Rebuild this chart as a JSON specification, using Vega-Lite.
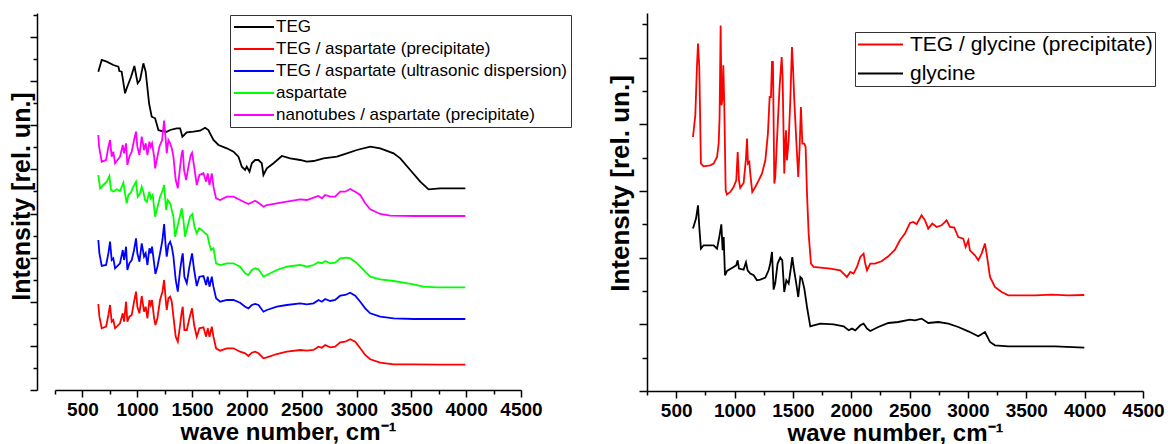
{
"$schema": "https://vega.github.io/schema/vega-lite/v6.json",
"background": "white",
"padding": {"left": 9, "top": 13, "right": 0, "bottom": 0},
"spacing": 35,
"config": {
  "view": {"stroke": null},
  "font": "Liberation Sans",
  "axis": {"domainColor": "black", "domainWidth": 1.5, "tickColor": "black", "tickWidth": 1.5, "grid": false, "labelFont": "Liberation Sans", "labelFontWeight": "bold", "labelColor": "black", "titleFont": "Liberation Sans", "titleFontWeight": "bold", "titleColor": "black", "labelOverlap": false, "labelFlush": false},
  "legend": {"labelFont": "Liberation Sans", "labelColor": "black"}
},
"datasets": {
"left": [
{"s":"TEG","x":645,"y":318.3},{"s":"TEG","x":676,"y":330},{"s":"TEG","x":722,"y":328.3},{"s":"TEG","x":782,"y":325},{"s":"TEG","x":828,"y":323.3},{"s":"TEG","x":837,"y":319},{"s":"TEG","x":858,"y":318.3},{"s":"TEG","x":889,"y":296.7},{"s":"TEG","x":904,"y":301.7},{"s":"TEG","x":944,"y":313.3},{"s":"TEG","x":974,"y":324},{"s":"TEG","x":1004,"y":306.7},{"s":"TEG","x":1026,"y":310},{"s":"TEG","x":1056,"y":326.7},{"s":"TEG","x":1077,"y":318.3},{"s":"TEG","x":1108,"y":286.7},{"s":"TEG","x":1132,"y":273.3},{"s":"TEG","x":1163,"y":271.7},{"s":"TEG","x":1193,"y":260},{"s":"TEG","x":1223,"y":259},{"s":"TEG","x":1269,"y":258.3},{"s":"TEG","x":1300,"y":260},{"s":"TEG","x":1360,"y":261.7},{"s":"TEG","x":1391,"y":261.7},{"s":"TEG","x":1412,"y":253.3},{"s":"TEG","x":1452,"y":257.7},{"s":"TEG","x":1512,"y":258.3},{"s":"TEG","x":1573,"y":259.3},{"s":"TEG","x":1619,"y":262.3},{"s":"TEG","x":1649,"y":260},{"s":"TEG","x":1695,"y":250},{"s":"TEG","x":1741,"y":245},{"s":"TEG","x":1817,"y":241.7},{"s":"TEG","x":1878,"y":238.3},{"s":"TEG","x":1923,"y":233.3},{"s":"TEG","x":1954,"y":223.3},{"s":"TEG","x":1984,"y":220},{"s":"TEG","x":1999,"y":223.3},{"s":"TEG","x":2024,"y":218.3},{"s":"TEG","x":2045,"y":226.7},{"s":"TEG","x":2075,"y":230},{"s":"TEG","x":2106,"y":230},{"s":"TEG","x":2136,"y":226.7},{"s":"TEG","x":2151,"y":215},{"s":"TEG","x":2182,"y":221.7},{"s":"TEG","x":2243,"y":226.7},{"s":"TEG","x":2319,"y":234},{"s":"TEG","x":2395,"y":231.7},{"s":"TEG","x":2486,"y":230},{"s":"TEG","x":2547,"y":228.3},{"s":"TEG","x":2608,"y":229},{"s":"TEG","x":2699,"y":231.7},{"s":"TEG","x":2821,"y":233.3},{"s":"TEG","x":2912,"y":236.7},{"s":"TEG","x":3003,"y":240},{"s":"TEG","x":3125,"y":243.3},{"s":"TEG","x":3216,"y":241.7},{"s":"TEG","x":3338,"y":236.7},{"s":"TEG","x":3399,"y":231.7},{"s":"TEG","x":3490,"y":220},{"s":"TEG","x":3581,"y":208.3},{"s":"TEG","x":3657,"y":200.7},{"s":"TEG","x":3763,"y":201.7},{"s":"TEG","x":3885,"y":201.7},{"s":"TEG","x":3992,"y":201.7},
{"s":"nanotubes / aspartate (precipitate)","x":645,"y":255},{"s":"nanotubes / aspartate (precipitate)","x":652,"y":243.3},{"s":"nanotubes / aspartate (precipitate)","x":676,"y":228.3},{"s":"nanotubes / aspartate (precipitate)","x":716,"y":230},{"s":"nanotubes / aspartate (precipitate)","x":737,"y":243.3},{"s":"nanotubes / aspartate (precipitate)","x":752,"y":250},{"s":"nanotubes / aspartate (precipitate)","x":767,"y":233.3},{"s":"nanotubes / aspartate (precipitate)","x":782,"y":238.3},{"s":"nanotubes / aspartate (precipitate)","x":798,"y":226.7},{"s":"nanotubes / aspartate (precipitate)","x":843,"y":233.3},{"s":"nanotubes / aspartate (precipitate)","x":868,"y":245},{"s":"nanotubes / aspartate (precipitate)","x":880,"y":236.7},{"s":"nanotubes / aspartate (precipitate)","x":898,"y":246.7},{"s":"nanotubes / aspartate (precipitate)","x":910,"y":225},{"s":"nanotubes / aspartate (precipitate)","x":928,"y":233.3},{"s":"nanotubes / aspartate (precipitate)","x":950,"y":238.3},{"s":"nanotubes / aspartate (precipitate)","x":971,"y":250},{"s":"nanotubes / aspartate (precipitate)","x":989,"y":258.3},{"s":"nanotubes / aspartate (precipitate)","x":1001,"y":243.3},{"s":"nanotubes / aspartate (precipitate)","x":1020,"y":235},{"s":"nanotubes / aspartate (precipitate)","x":1041,"y":253.3},{"s":"nanotubes / aspartate (precipitate)","x":1062,"y":240},{"s":"nanotubes / aspartate (precipitate)","x":1077,"y":246.7},{"s":"nanotubes / aspartate (precipitate)","x":1093,"y":235},{"s":"nanotubes / aspartate (precipitate)","x":1111,"y":248.3},{"s":"nanotubes / aspartate (precipitate)","x":1123,"y":243.3},{"s":"nanotubes / aspartate (precipitate)","x":1135,"y":246.7},{"s":"nanotubes / aspartate (precipitate)","x":1154,"y":233.3},{"s":"nanotubes / aspartate (precipitate)","x":1163,"y":221.7},{"s":"nanotubes / aspartate (precipitate)","x":1178,"y":230},{"s":"nanotubes / aspartate (precipitate)","x":1202,"y":243.3},{"s":"nanotubes / aspartate (precipitate)","x":1227,"y":250},{"s":"nanotubes / aspartate (precipitate)","x":1245,"y":269.3},{"s":"nanotubes / aspartate (precipitate)","x":1260,"y":250},{"s":"nanotubes / aspartate (precipitate)","x":1269,"y":236.7},{"s":"nanotubes / aspartate (precipitate)","x":1284,"y":250},{"s":"nanotubes / aspartate (precipitate)","x":1300,"y":246.7},{"s":"nanotubes / aspartate (precipitate)","x":1315,"y":241.7},{"s":"nanotubes / aspartate (precipitate)","x":1330,"y":233.3},{"s":"nanotubes / aspartate (precipitate)","x":1351,"y":210},{"s":"nanotubes / aspartate (precipitate)","x":1370,"y":201.7},{"s":"nanotubes / aspartate (precipitate)","x":1391,"y":223.3},{"s":"nanotubes / aspartate (precipitate)","x":1406,"y":236.7},{"s":"nanotubes / aspartate (precipitate)","x":1415,"y":240},{"s":"nanotubes / aspartate (precipitate)","x":1427,"y":220},{"s":"nanotubes / aspartate (precipitate)","x":1446,"y":210},{"s":"nanotubes / aspartate (precipitate)","x":1467,"y":223.3},{"s":"nanotubes / aspartate (precipitate)","x":1488,"y":235},{"s":"nanotubes / aspartate (precipitate)","x":1500,"y":237.3},{"s":"nanotubes / aspartate (precipitate)","x":1519,"y":223.3},{"s":"nanotubes / aspartate (precipitate)","x":1543,"y":205},{"s":"nanotubes / aspartate (precipitate)","x":1567,"y":215},{"s":"nanotubes / aspartate (precipitate)","x":1604,"y":216.7},{"s":"nanotubes / aspartate (precipitate)","x":1628,"y":208.3},{"s":"nanotubes / aspartate (precipitate)","x":1643,"y":216.7},{"s":"nanotubes / aspartate (precipitate)","x":1659,"y":205},{"s":"nanotubes / aspartate (precipitate)","x":1680,"y":216.7},{"s":"nanotubes / aspartate (precipitate)","x":1695,"y":203.3},{"s":"nanotubes / aspartate (precipitate)","x":1719,"y":191.7},{"s":"nanotubes / aspartate (precipitate)","x":1756,"y":190},{"s":"nanotubes / aspartate (precipitate)","x":1817,"y":193.3},{"s":"nanotubes / aspartate (precipitate)","x":1878,"y":193.3},{"s":"nanotubes / aspartate (precipitate)","x":1938,"y":190},{"s":"nanotubes / aspartate (precipitate)","x":2014,"y":186},{"s":"nanotubes / aspartate (precipitate)","x":2075,"y":189.3},{"s":"nanotubes / aspartate (precipitate)","x":2106,"y":187.3},{"s":"nanotubes / aspartate (precipitate)","x":2151,"y":183.3},{"s":"nanotubes / aspartate (precipitate)","x":2182,"y":185},{"s":"nanotubes / aspartate (precipitate)","x":2273,"y":186.7},{"s":"nanotubes / aspartate (precipitate)","x":2364,"y":188.3},{"s":"nanotubes / aspartate (precipitate)","x":2486,"y":190.7},{"s":"nanotubes / aspartate (precipitate)","x":2547,"y":190},{"s":"nanotubes / aspartate (precipitate)","x":2608,"y":192.3},{"s":"nanotubes / aspartate (precipitate)","x":2653,"y":194},{"s":"nanotubes / aspartate (precipitate)","x":2684,"y":191.7},{"s":"nanotubes / aspartate (precipitate)","x":2714,"y":195},{"s":"nanotubes / aspartate (precipitate)","x":2760,"y":193.3},{"s":"nanotubes / aspartate (precipitate)","x":2805,"y":193.3},{"s":"nanotubes / aspartate (precipitate)","x":2851,"y":198.3},{"s":"nanotubes / aspartate (precipitate)","x":2897,"y":198.3},{"s":"nanotubes / aspartate (precipitate)","x":2942,"y":201},{"s":"nanotubes / aspartate (precipitate)","x":2988,"y":198.3},{"s":"nanotubes / aspartate (precipitate)","x":3034,"y":195},{"s":"nanotubes / aspartate (precipitate)","x":3079,"y":186.7},{"s":"nanotubes / aspartate (precipitate)","x":3125,"y":180.7},{"s":"nanotubes / aspartate (precipitate)","x":3216,"y":176},{"s":"nanotubes / aspartate (precipitate)","x":3307,"y":174.3},{"s":"nanotubes / aspartate (precipitate)","x":3520,"y":174},{"s":"nanotubes / aspartate (precipitate)","x":3763,"y":174},{"s":"nanotubes / aspartate (precipitate)","x":3992,"y":174},
{"s":"aspartate","x":645,"y":215},{"s":"aspartate","x":661,"y":201.7},{"s":"aspartate","x":691,"y":205},{"s":"aspartate","x":722,"y":208.3},{"s":"aspartate","x":746,"y":214},{"s":"aspartate","x":761,"y":200},{"s":"aspartate","x":782,"y":198.3},{"s":"aspartate","x":813,"y":200.7},{"s":"aspartate","x":843,"y":199},{"s":"aspartate","x":874,"y":207.3},{"s":"aspartate","x":889,"y":196.7},{"s":"aspartate","x":904,"y":186.7},{"s":"aspartate","x":919,"y":195},{"s":"aspartate","x":941,"y":197.3},{"s":"aspartate","x":965,"y":203.3},{"s":"aspartate","x":989,"y":208.3},{"s":"aspartate","x":1004,"y":193.3},{"s":"aspartate","x":1026,"y":196.7},{"s":"aspartate","x":1041,"y":203.3},{"s":"aspartate","x":1056,"y":198.3},{"s":"aspartate","x":1071,"y":190},{"s":"aspartate","x":1087,"y":188.3},{"s":"aspartate","x":1111,"y":198.3},{"s":"aspartate","x":1123,"y":191.7},{"s":"aspartate","x":1141,"y":195},{"s":"aspartate","x":1163,"y":173.3},{"s":"aspartate","x":1178,"y":180},{"s":"aspartate","x":1208,"y":193.3},{"s":"aspartate","x":1233,"y":200},{"s":"aspartate","x":1245,"y":205},{"s":"aspartate","x":1263,"y":180},{"s":"aspartate","x":1278,"y":190},{"s":"aspartate","x":1300,"y":186.7},{"s":"aspartate","x":1330,"y":173.3},{"s":"aspartate","x":1345,"y":153.3},{"s":"aspartate","x":1366,"y":163.3},{"s":"aspartate","x":1385,"y":171.7},{"s":"aspartate","x":1406,"y":181.7},{"s":"aspartate","x":1421,"y":170},{"s":"aspartate","x":1436,"y":153.3},{"s":"aspartate","x":1458,"y":163.3},{"s":"aspartate","x":1482,"y":173.3},{"s":"aspartate","x":1503,"y":176},{"s":"aspartate","x":1522,"y":163.3},{"s":"aspartate","x":1543,"y":156.7},{"s":"aspartate","x":1564,"y":161.7},{"s":"aspartate","x":1589,"y":160},{"s":"aspartate","x":1619,"y":156.7},{"s":"aspartate","x":1640,"y":155},{"s":"aspartate","x":1659,"y":145},{"s":"aspartate","x":1674,"y":140},{"s":"aspartate","x":1695,"y":141.7},{"s":"aspartate","x":1719,"y":126.7},{"s":"aspartate","x":1756,"y":125},{"s":"aspartate","x":1817,"y":126.7},{"s":"aspartate","x":1878,"y":126.7},{"s":"aspartate","x":1938,"y":123.3},{"s":"aspartate","x":1984,"y":116.7},{"s":"aspartate","x":2014,"y":115},{"s":"aspartate","x":2045,"y":120},{"s":"aspartate","x":2075,"y":121.7},{"s":"aspartate","x":2106,"y":120.7},{"s":"aspartate","x":2151,"y":113.3},{"s":"aspartate","x":2182,"y":115},{"s":"aspartate","x":2273,"y":120},{"s":"aspartate","x":2364,"y":123.3},{"s":"aspartate","x":2486,"y":125},{"s":"aspartate","x":2547,"y":123.3},{"s":"aspartate","x":2608,"y":125},{"s":"aspartate","x":2653,"y":127.7},{"s":"aspartate","x":2684,"y":126.7},{"s":"aspartate","x":2714,"y":129},{"s":"aspartate","x":2760,"y":126.7},{"s":"aspartate","x":2805,"y":127.3},{"s":"aspartate","x":2851,"y":131.7},{"s":"aspartate","x":2912,"y":132.3},{"s":"aspartate","x":2942,"y":131.7},{"s":"aspartate","x":2988,"y":128.3},{"s":"aspartate","x":3034,"y":123.3},{"s":"aspartate","x":3079,"y":118.3},{"s":"aspartate","x":3125,"y":113.3},{"s":"aspartate","x":3216,"y":110.7},{"s":"aspartate","x":3338,"y":109},{"s":"aspartate","x":3429,"y":107.3},{"s":"aspartate","x":3520,"y":105.7},{"s":"aspartate","x":3611,"y":103.3},{"s":"aspartate","x":3733,"y":102.7},{"s":"aspartate","x":3992,"y":102.7},
{"s":"TEG / aspartate (ultrasonic dispersion)","x":645,"y":150},{"s":"TEG / aspartate (ultrasonic dispersion)","x":655,"y":136.7},{"s":"TEG / aspartate (ultrasonic dispersion)","x":676,"y":124},{"s":"TEG / aspartate (ultrasonic dispersion)","x":716,"y":125},{"s":"TEG / aspartate (ultrasonic dispersion)","x":737,"y":136.7},{"s":"TEG / aspartate (ultrasonic dispersion)","x":752,"y":148.3},{"s":"TEG / aspartate (ultrasonic dispersion)","x":767,"y":130},{"s":"TEG / aspartate (ultrasonic dispersion)","x":782,"y":131.7},{"s":"TEG / aspartate (ultrasonic dispersion)","x":798,"y":121.7},{"s":"TEG / aspartate (ultrasonic dispersion)","x":843,"y":126.7},{"s":"TEG / aspartate (ultrasonic dispersion)","x":868,"y":140},{"s":"TEG / aspartate (ultrasonic dispersion)","x":880,"y":130},{"s":"TEG / aspartate (ultrasonic dispersion)","x":898,"y":143.3},{"s":"TEG / aspartate (ultrasonic dispersion)","x":910,"y":120},{"s":"TEG / aspartate (ultrasonic dispersion)","x":928,"y":126.7},{"s":"TEG / aspartate (ultrasonic dispersion)","x":950,"y":130},{"s":"TEG / aspartate (ultrasonic dispersion)","x":971,"y":140},{"s":"TEG / aspartate (ultrasonic dispersion)","x":989,"y":151.7},{"s":"TEG / aspartate (ultrasonic dispersion)","x":1001,"y":136.7},{"s":"TEG / aspartate (ultrasonic dispersion)","x":1020,"y":128.3},{"s":"TEG / aspartate (ultrasonic dispersion)","x":1041,"y":146.7},{"s":"TEG / aspartate (ultrasonic dispersion)","x":1062,"y":133.3},{"s":"TEG / aspartate (ultrasonic dispersion)","x":1077,"y":136.7},{"s":"TEG / aspartate (ultrasonic dispersion)","x":1093,"y":125},{"s":"TEG / aspartate (ultrasonic dispersion)","x":1111,"y":141.7},{"s":"TEG / aspartate (ultrasonic dispersion)","x":1123,"y":136.7},{"s":"TEG / aspartate (ultrasonic dispersion)","x":1135,"y":143.3},{"s":"TEG / aspartate (ultrasonic dispersion)","x":1154,"y":126.7},{"s":"TEG / aspartate (ultrasonic dispersion)","x":1166,"y":116},{"s":"TEG / aspartate (ultrasonic dispersion)","x":1184,"y":123.3},{"s":"TEG / aspartate (ultrasonic dispersion)","x":1208,"y":136.7},{"s":"TEG / aspartate (ultrasonic dispersion)","x":1230,"y":150},{"s":"TEG / aspartate (ultrasonic dispersion)","x":1245,"y":166},{"s":"TEG / aspartate (ultrasonic dispersion)","x":1260,"y":143.3},{"s":"TEG / aspartate (ultrasonic dispersion)","x":1269,"y":133.3},{"s":"TEG / aspartate (ultrasonic dispersion)","x":1284,"y":145},{"s":"TEG / aspartate (ultrasonic dispersion)","x":1300,"y":148.3},{"s":"TEG / aspartate (ultrasonic dispersion)","x":1315,"y":143.3},{"s":"TEG / aspartate (ultrasonic dispersion)","x":1330,"y":133.3},{"s":"TEG / aspartate (ultrasonic dispersion)","x":1351,"y":110},{"s":"TEG / aspartate (ultrasonic dispersion)","x":1370,"y":98.3},{"s":"TEG / aspartate (ultrasonic dispersion)","x":1391,"y":120},{"s":"TEG / aspartate (ultrasonic dispersion)","x":1406,"y":131.7},{"s":"TEG / aspartate (ultrasonic dispersion)","x":1415,"y":136.7},{"s":"TEG / aspartate (ultrasonic dispersion)","x":1430,"y":113.3},{"s":"TEG / aspartate (ultrasonic dispersion)","x":1452,"y":106.7},{"s":"TEG / aspartate (ultrasonic dispersion)","x":1476,"y":123.3},{"s":"TEG / aspartate (ultrasonic dispersion)","x":1500,"y":136.7},{"s":"TEG / aspartate (ultrasonic dispersion)","x":1519,"y":120},{"s":"TEG / aspartate (ultrasonic dispersion)","x":1543,"y":104},{"s":"TEG / aspartate (ultrasonic dispersion)","x":1567,"y":113.3},{"s":"TEG / aspartate (ultrasonic dispersion)","x":1604,"y":114},{"s":"TEG / aspartate (ultrasonic dispersion)","x":1628,"y":105},{"s":"TEG / aspartate (ultrasonic dispersion)","x":1643,"y":113.3},{"s":"TEG / aspartate (ultrasonic dispersion)","x":1659,"y":103.3},{"s":"TEG / aspartate (ultrasonic dispersion)","x":1680,"y":113.3},{"s":"TEG / aspartate (ultrasonic dispersion)","x":1695,"y":103.3},{"s":"TEG / aspartate (ultrasonic dispersion)","x":1719,"y":91.7},{"s":"TEG / aspartate (ultrasonic dispersion)","x":1756,"y":88.3},{"s":"TEG / aspartate (ultrasonic dispersion)","x":1817,"y":90},{"s":"TEG / aspartate (ultrasonic dispersion)","x":1878,"y":90},{"s":"TEG / aspartate (ultrasonic dispersion)","x":1938,"y":87.3},{"s":"TEG / aspartate (ultrasonic dispersion)","x":1984,"y":83.3},{"s":"TEG / aspartate (ultrasonic dispersion)","x":2014,"y":81.7},{"s":"TEG / aspartate (ultrasonic dispersion)","x":2045,"y":85},{"s":"TEG / aspartate (ultrasonic dispersion)","x":2075,"y":86},{"s":"TEG / aspartate (ultrasonic dispersion)","x":2106,"y":85},{"s":"TEG / aspartate (ultrasonic dispersion)","x":2151,"y":78.3},{"s":"TEG / aspartate (ultrasonic dispersion)","x":2182,"y":80},{"s":"TEG / aspartate (ultrasonic dispersion)","x":2273,"y":83.3},{"s":"TEG / aspartate (ultrasonic dispersion)","x":2364,"y":85},{"s":"TEG / aspartate (ultrasonic dispersion)","x":2486,"y":86.7},{"s":"TEG / aspartate (ultrasonic dispersion)","x":2547,"y":85.7},{"s":"TEG / aspartate (ultrasonic dispersion)","x":2608,"y":86.7},{"s":"TEG / aspartate (ultrasonic dispersion)","x":2653,"y":90},{"s":"TEG / aspartate (ultrasonic dispersion)","x":2684,"y":88.3},{"s":"TEG / aspartate (ultrasonic dispersion)","x":2714,"y":91},{"s":"TEG / aspartate (ultrasonic dispersion)","x":2760,"y":89},{"s":"TEG / aspartate (ultrasonic dispersion)","x":2805,"y":90},{"s":"TEG / aspartate (ultrasonic dispersion)","x":2851,"y":94.3},{"s":"TEG / aspartate (ultrasonic dispersion)","x":2897,"y":95},{"s":"TEG / aspartate (ultrasonic dispersion)","x":2942,"y":97.3},{"s":"TEG / aspartate (ultrasonic dispersion)","x":2988,"y":94.3},{"s":"TEG / aspartate (ultrasonic dispersion)","x":3034,"y":88.3},{"s":"TEG / aspartate (ultrasonic dispersion)","x":3079,"y":81.7},{"s":"TEG / aspartate (ultrasonic dispersion)","x":3125,"y":76.7},{"s":"TEG / aspartate (ultrasonic dispersion)","x":3216,"y":73.3},{"s":"TEG / aspartate (ultrasonic dispersion)","x":3338,"y":71.7},{"s":"TEG / aspartate (ultrasonic dispersion)","x":3520,"y":71},{"s":"TEG / aspartate (ultrasonic dispersion)","x":3763,"y":71},{"s":"TEG / aspartate (ultrasonic dispersion)","x":3992,"y":71},
{"s":"TEG / aspartate (precipitate)","x":645,"y":86},{"s":"TEG / aspartate (precipitate)","x":655,"y":73.3},{"s":"TEG / aspartate (precipitate)","x":676,"y":61.7},{"s":"TEG / aspartate (precipitate)","x":716,"y":63.3},{"s":"TEG / aspartate (precipitate)","x":737,"y":75},{"s":"TEG / aspartate (precipitate)","x":752,"y":85},{"s":"TEG / aspartate (precipitate)","x":767,"y":68.3},{"s":"TEG / aspartate (precipitate)","x":782,"y":70},{"s":"TEG / aspartate (precipitate)","x":798,"y":61.7},{"s":"TEG / aspartate (precipitate)","x":843,"y":66.7},{"s":"TEG / aspartate (precipitate)","x":868,"y":76.7},{"s":"TEG / aspartate (precipitate)","x":880,"y":68.3},{"s":"TEG / aspartate (precipitate)","x":898,"y":88.3},{"s":"TEG / aspartate (precipitate)","x":910,"y":68.3},{"s":"TEG / aspartate (precipitate)","x":928,"y":73.3},{"s":"TEG / aspartate (precipitate)","x":950,"y":75},{"s":"TEG / aspartate (precipitate)","x":971,"y":88.3},{"s":"TEG / aspartate (precipitate)","x":989,"y":98.3},{"s":"TEG / aspartate (precipitate)","x":1001,"y":83.3},{"s":"TEG / aspartate (precipitate)","x":1020,"y":76.7},{"s":"TEG / aspartate (precipitate)","x":1041,"y":94},{"s":"TEG / aspartate (precipitate)","x":1062,"y":78.3},{"s":"TEG / aspartate (precipitate)","x":1077,"y":83.3},{"s":"TEG / aspartate (precipitate)","x":1093,"y":71.7},{"s":"TEG / aspartate (precipitate)","x":1111,"y":90},{"s":"TEG / aspartate (precipitate)","x":1123,"y":85},{"s":"TEG / aspartate (precipitate)","x":1135,"y":90},{"s":"TEG / aspartate (precipitate)","x":1154,"y":71.7},{"s":"TEG / aspartate (precipitate)","x":1166,"y":65},{"s":"TEG / aspartate (precipitate)","x":1184,"y":71.7},{"s":"TEG / aspartate (precipitate)","x":1208,"y":90},{"s":"TEG / aspartate (precipitate)","x":1230,"y":98.3},{"s":"TEG / aspartate (precipitate)","x":1245,"y":110},{"s":"TEG / aspartate (precipitate)","x":1260,"y":90},{"s":"TEG / aspartate (precipitate)","x":1269,"y":80},{"s":"TEG / aspartate (precipitate)","x":1284,"y":91.7},{"s":"TEG / aspartate (precipitate)","x":1300,"y":93.3},{"s":"TEG / aspartate (precipitate)","x":1315,"y":88.3},{"s":"TEG / aspartate (precipitate)","x":1330,"y":73.3},{"s":"TEG / aspartate (precipitate)","x":1351,"y":53.3},{"s":"TEG / aspartate (precipitate)","x":1370,"y":48.3},{"s":"TEG / aspartate (precipitate)","x":1391,"y":65},{"s":"TEG / aspartate (precipitate)","x":1406,"y":78.3},{"s":"TEG / aspartate (precipitate)","x":1415,"y":83.3},{"s":"TEG / aspartate (precipitate)","x":1430,"y":60},{"s":"TEG / aspartate (precipitate)","x":1452,"y":60},{"s":"TEG / aspartate (precipitate)","x":1476,"y":71.7},{"s":"TEG / aspartate (precipitate)","x":1500,"y":81.7},{"s":"TEG / aspartate (precipitate)","x":1519,"y":65},{"s":"TEG / aspartate (precipitate)","x":1543,"y":53.3},{"s":"TEG / aspartate (precipitate)","x":1567,"y":61.7},{"s":"TEG / aspartate (precipitate)","x":1604,"y":62.7},{"s":"TEG / aspartate (precipitate)","x":1628,"y":53.3},{"s":"TEG / aspartate (precipitate)","x":1643,"y":61.7},{"s":"TEG / aspartate (precipitate)","x":1659,"y":53.3},{"s":"TEG / aspartate (precipitate)","x":1680,"y":63.3},{"s":"TEG / aspartate (precipitate)","x":1695,"y":53.3},{"s":"TEG / aspartate (precipitate)","x":1719,"y":41.7},{"s":"TEG / aspartate (precipitate)","x":1756,"y":39.3},{"s":"TEG / aspartate (precipitate)","x":1817,"y":41.7},{"s":"TEG / aspartate (precipitate)","x":1878,"y":41.7},{"s":"TEG / aspartate (precipitate)","x":1938,"y":38.3},{"s":"TEG / aspartate (precipitate)","x":1984,"y":36.7},{"s":"TEG / aspartate (precipitate)","x":2014,"y":34},{"s":"TEG / aspartate (precipitate)","x":2045,"y":37.3},{"s":"TEG / aspartate (precipitate)","x":2075,"y":38.3},{"s":"TEG / aspartate (precipitate)","x":2106,"y":36.7},{"s":"TEG / aspartate (precipitate)","x":2151,"y":31.7},{"s":"TEG / aspartate (precipitate)","x":2182,"y":32.7},{"s":"TEG / aspartate (precipitate)","x":2273,"y":36},{"s":"TEG / aspartate (precipitate)","x":2364,"y":38.3},{"s":"TEG / aspartate (precipitate)","x":2486,"y":40},{"s":"TEG / aspartate (precipitate)","x":2547,"y":39.3},{"s":"TEG / aspartate (precipitate)","x":2608,"y":40},{"s":"TEG / aspartate (precipitate)","x":2653,"y":43.3},{"s":"TEG / aspartate (precipitate)","x":2684,"y":42.3},{"s":"TEG / aspartate (precipitate)","x":2714,"y":45},{"s":"TEG / aspartate (precipitate)","x":2760,"y":42.7},{"s":"TEG / aspartate (precipitate)","x":2805,"y":43.3},{"s":"TEG / aspartate (precipitate)","x":2851,"y":47.7},{"s":"TEG / aspartate (precipitate)","x":2897,"y":48.3},{"s":"TEG / aspartate (precipitate)","x":2942,"y":50.7},{"s":"TEG / aspartate (precipitate)","x":2988,"y":48.3},{"s":"TEG / aspartate (precipitate)","x":3034,"y":41.7},{"s":"TEG / aspartate (precipitate)","x":3079,"y":35},{"s":"TEG / aspartate (precipitate)","x":3125,"y":30.7},{"s":"TEG / aspartate (precipitate)","x":3216,"y":27.3},{"s":"TEG / aspartate (precipitate)","x":3338,"y":25.7},{"s":"TEG / aspartate (precipitate)","x":3520,"y":25.7},{"s":"TEG / aspartate (precipitate)","x":3763,"y":25.3},{"s":"TEG / aspartate (precipitate)","x":3992,"y":25.3}
],
"right": [
{"s":"TEG / glycine (precipitate)","x":644,"y":254},{"s":"TEG / glycine (precipitate)","x":664,"y":275.7},{"s":"TEG / glycine (precipitate)","x":678,"y":324},{"s":"TEG / glycine (precipitate)","x":687,"y":347.4},{"s":"TEG / glycine (precipitate)","x":698,"y":324},{"s":"TEG / glycine (precipitate)","x":712,"y":227.4},{"s":"TEG / glycine (precipitate)","x":735,"y":224.7},{"s":"TEG / glycine (precipitate)","x":792,"y":225.7},{"s":"TEG / glycine (precipitate)","x":821,"y":227.4},{"s":"TEG / glycine (precipitate)","x":850,"y":234},{"s":"TEG / glycine (precipitate)","x":864,"y":247.4},{"s":"TEG / glycine (precipitate)","x":872,"y":274},{"s":"TEG / glycine (precipitate)","x":881,"y":365.4},{"s":"TEG / glycine (precipitate)","x":889,"y":285.7},{"s":"TEG / glycine (precipitate)","x":898,"y":294},{"s":"TEG / glycine (precipitate)","x":904,"y":325.7},{"s":"TEG / glycine (precipitate)","x":912,"y":287.4},{"s":"TEG / glycine (precipitate)","x":924,"y":200.7},{"s":"TEG / glycine (precipitate)","x":935,"y":196.4},{"s":"TEG / glycine (precipitate)","x":964,"y":199},{"s":"TEG / glycine (precipitate)","x":992,"y":204},{"s":"TEG / glycine (precipitate)","x":1015,"y":210.7},{"s":"TEG / glycine (precipitate)","x":1027,"y":239},{"s":"TEG / glycine (precipitate)","x":1038,"y":210.7},{"s":"TEG / glycine (precipitate)","x":1049,"y":203},{"s":"TEG / glycine (precipitate)","x":1078,"y":208},{"s":"TEG / glycine (precipitate)","x":1098,"y":232.4},{"s":"TEG / glycine (precipitate)","x":1107,"y":252.4},{"s":"TEG / glycine (precipitate)","x":1115,"y":227.4},{"s":"TEG / glycine (precipitate)","x":1127,"y":229},{"s":"TEG / glycine (precipitate)","x":1135,"y":217.4},{"s":"TEG / glycine (precipitate)","x":1152,"y":199},{"s":"TEG / glycine (precipitate)","x":1178,"y":204},{"s":"TEG / glycine (precipitate)","x":1207,"y":210.7},{"s":"TEG / glycine (precipitate)","x":1235,"y":217.4},{"s":"TEG / glycine (precipitate)","x":1264,"y":230.7},{"s":"TEG / glycine (precipitate)","x":1286,"y":257.4},{"s":"TEG / glycine (precipitate)","x":1301,"y":294},{"s":"TEG / glycine (precipitate)","x":1312,"y":294},{"s":"TEG / glycine (precipitate)","x":1321,"y":329},{"s":"TEG / glycine (precipitate)","x":1329,"y":329},{"s":"TEG / glycine (precipitate)","x":1341,"y":207.4},{"s":"TEG / glycine (precipitate)","x":1349,"y":214},{"s":"TEG / glycine (precipitate)","x":1369,"y":264},{"s":"TEG / glycine (precipitate)","x":1386,"y":304},{"s":"TEG / glycine (precipitate)","x":1404,"y":334},{"s":"TEG / glycine (precipitate)","x":1412,"y":314},{"s":"TEG / glycine (precipitate)","x":1426,"y":217.4},{"s":"TEG / glycine (precipitate)","x":1435,"y":247.4},{"s":"TEG / glycine (precipitate)","x":1441,"y":260.7},{"s":"TEG / glycine (precipitate)","x":1449,"y":230.7},{"s":"TEG / glycine (precipitate)","x":1464,"y":250.7},{"s":"TEG / glycine (precipitate)","x":1478,"y":290.7},{"s":"TEG / glycine (precipitate)","x":1492,"y":344},{"s":"TEG / glycine (precipitate)","x":1501,"y":324},{"s":"TEG / glycine (precipitate)","x":1512,"y":290.7},{"s":"TEG / glycine (precipitate)","x":1529,"y":250.7},{"s":"TEG / glycine (precipitate)","x":1546,"y":214},{"s":"TEG / glycine (precipitate)","x":1558,"y":244},{"s":"TEG / glycine (precipitate)","x":1569,"y":284},{"s":"TEG / glycine (precipitate)","x":1581,"y":247.4},{"s":"TEG / glycine (precipitate)","x":1598,"y":247.4},{"s":"TEG / glycine (precipitate)","x":1609,"y":244},{"s":"TEG / glycine (precipitate)","x":1621,"y":197.4},{"s":"TEG / glycine (precipitate)","x":1635,"y":157.4},{"s":"TEG / glycine (precipitate)","x":1655,"y":127.4},{"s":"TEG / glycine (precipitate)","x":1678,"y":124},{"s":"TEG / glycine (precipitate)","x":1735,"y":123.4},{"s":"TEG / glycine (precipitate)","x":1821,"y":122.4},{"s":"TEG / glycine (precipitate)","x":1906,"y":120.7},{"s":"TEG / glycine (precipitate)","x":1949,"y":115.7},{"s":"TEG / glycine (precipitate)","x":1963,"y":114},{"s":"TEG / glycine (precipitate)","x":1992,"y":119},{"s":"TEG / glycine (precipitate)","x":2020,"y":117.4},{"s":"TEG / glycine (precipitate)","x":2049,"y":124},{"s":"TEG / glycine (precipitate)","x":2078,"y":134},{"s":"TEG / glycine (precipitate)","x":2106,"y":137.4},{"s":"TEG / glycine (precipitate)","x":2120,"y":127.4},{"s":"TEG / glycine (precipitate)","x":2135,"y":120.7},{"s":"TEG / glycine (precipitate)","x":2163,"y":127.4},{"s":"TEG / glycine (precipitate)","x":2203,"y":127.4},{"s":"TEG / glycine (precipitate)","x":2260,"y":129.7},{"s":"TEG / glycine (precipitate)","x":2318,"y":134.7},{"s":"TEG / glycine (precipitate)","x":2375,"y":141.4},{"s":"TEG / glycine (precipitate)","x":2417,"y":150.7},{"s":"TEG / glycine (precipitate)","x":2460,"y":157.4},{"s":"TEG / glycine (precipitate)","x":2503,"y":168},{"s":"TEG / glycine (precipitate)","x":2532,"y":169},{"s":"TEG / glycine (precipitate)","x":2560,"y":166.7},{"s":"TEG / glycine (precipitate)","x":2603,"y":175.7},{"s":"TEG / glycine (precipitate)","x":2632,"y":170.7},{"s":"TEG / glycine (precipitate)","x":2660,"y":162.4},{"s":"TEG / glycine (precipitate)","x":2694,"y":167.4},{"s":"TEG / glycine (precipitate)","x":2732,"y":164},{"s":"TEG / glycine (precipitate)","x":2774,"y":165.7},{"s":"TEG / glycine (precipitate)","x":2817,"y":170.7},{"s":"TEG / glycine (precipitate)","x":2846,"y":164},{"s":"TEG / glycine (precipitate)","x":2883,"y":163.4},{"s":"TEG / glycine (precipitate)","x":2917,"y":154},{"s":"TEG / glycine (precipitate)","x":2960,"y":152.4},{"s":"TEG / glycine (precipitate)","x":2980,"y":144},{"s":"TEG / glycine (precipitate)","x":3003,"y":150.7},{"s":"TEG / glycine (precipitate)","x":3017,"y":140.7},{"s":"TEG / glycine (precipitate)","x":3060,"y":135.7},{"s":"TEG / glycine (precipitate)","x":3089,"y":130.7},{"s":"TEG / glycine (precipitate)","x":3117,"y":137.4},{"s":"TEG / glycine (precipitate)","x":3146,"y":147.4},{"s":"TEG / glycine (precipitate)","x":3160,"y":137.4},{"s":"TEG / glycine (precipitate)","x":3189,"y":114},{"s":"TEG / glycine (precipitate)","x":3231,"y":104},{"s":"TEG / glycine (precipitate)","x":3289,"y":99},{"s":"TEG / glycine (precipitate)","x":3346,"y":95.7},{"s":"TEG / glycine (precipitate)","x":3574,"y":95.7},{"s":"TEG / glycine (precipitate)","x":3717,"y":96.4},{"s":"TEG / glycine (precipitate)","x":3860,"y":95.7},{"s":"TEG / glycine (precipitate)","x":3997,"y":96},
{"s":"glycine","x":644,"y":162.4},{"s":"glycine","x":670,"y":172.4},{"s":"glycine","x":687,"y":185.7},{"s":"glycine","x":698,"y":164},{"s":"glycine","x":712,"y":142.4},{"s":"glycine","x":735,"y":145.7},{"s":"glycine","x":821,"y":145.7},{"s":"glycine","x":850,"y":142.4},{"s":"glycine","x":872,"y":155.7},{"s":"glycine","x":887,"y":166.7},{"s":"glycine","x":898,"y":140.7},{"s":"glycine","x":907,"y":154},{"s":"glycine","x":918,"y":115.7},{"s":"glycine","x":935,"y":120},{"s":"glycine","x":978,"y":123},{"s":"glycine","x":1015,"y":125.7},{"s":"glycine","x":1027,"y":130.7},{"s":"glycine","x":1038,"y":122.4},{"s":"glycine","x":1078,"y":121.4},{"s":"glycine","x":1098,"y":128.7},{"s":"glycine","x":1112,"y":120.7},{"s":"glycine","x":1135,"y":117.4},{"s":"glycine","x":1164,"y":115.7},{"s":"glycine","x":1192,"y":110.7},{"s":"glycine","x":1221,"y":111.4},{"s":"glycine","x":1264,"y":113.4},{"s":"glycine","x":1292,"y":120.7},{"s":"glycine","x":1306,"y":127.4},{"s":"glycine","x":1321,"y":139},{"s":"glycine","x":1335,"y":101.4},{"s":"glycine","x":1349,"y":108},{"s":"glycine","x":1369,"y":127.4},{"s":"glycine","x":1392,"y":133.4},{"s":"glycine","x":1409,"y":130.7},{"s":"glycine","x":1426,"y":99},{"s":"glycine","x":1444,"y":110.7},{"s":"glycine","x":1464,"y":107.4},{"s":"glycine","x":1484,"y":124},{"s":"glycine","x":1495,"y":134},{"s":"glycine","x":1506,"y":124},{"s":"glycine","x":1529,"y":107.4},{"s":"glycine","x":1546,"y":94},{"s":"glycine","x":1564,"y":114},{"s":"glycine","x":1578,"y":112.4},{"s":"glycine","x":1598,"y":102.4},{"s":"glycine","x":1621,"y":84},{"s":"glycine","x":1649,"y":64.7},{"s":"glycine","x":1678,"y":65.7},{"s":"glycine","x":1735,"y":67.4},{"s":"glycine","x":1849,"y":66.7},{"s":"glycine","x":1935,"y":64.7},{"s":"glycine","x":1978,"y":60.7},{"s":"glycine","x":2006,"y":62.4},{"s":"glycine","x":2035,"y":60.7},{"s":"glycine","x":2078,"y":65.7},{"s":"glycine","x":2106,"y":67.4},{"s":"glycine","x":2135,"y":62.4},{"s":"glycine","x":2163,"y":60},{"s":"glycine","x":2232,"y":64},{"s":"glycine","x":2318,"y":68},{"s":"glycine","x":2403,"y":69},{"s":"glycine","x":2503,"y":71.4},{"s":"glycine","x":2546,"y":70.7},{"s":"glycine","x":2603,"y":72.4},{"s":"glycine","x":2660,"y":68},{"s":"glycine","x":2746,"y":69},{"s":"glycine","x":2832,"y":67.4},{"s":"glycine","x":2917,"y":64},{"s":"glycine","x":3003,"y":59.7},{"s":"glycine","x":3089,"y":54.7},{"s":"glycine","x":3146,"y":59},{"s":"glycine","x":3189,"y":49},{"s":"glycine","x":3231,"y":45.7},{"s":"glycine","x":3346,"y":44.7},{"s":"glycine","x":3574,"y":44.7},{"s":"glycine","x":3745,"y":44.7},{"s":"glycine","x":3997,"y":43.4}
]
},
"hconcat": [
{
  "width": 466, "height": 377,
  "data": {"name": "left"},
  "mark": {"type": "line", "strokeWidth": 1.8, "clip": true},
  "encoding": {
    "x": {"field": "x", "type": "quantitative",
      "scale": {"domain": [250, 4500], "nice": false, "zero": false},
      "axis": {"title": "wave number, cm⁻¹", "values": [250,500,750,1000,1250,1500,1750,2000,2250,2500,2750,3000,3250,3500,3750,4000,4250,4500],
        "labelExpr": "datum.value % 500 === 0 ? datum.value : ''",
        "tickSize": {"condition": {"test": "datum.value % 500 === 0", "value": 7}, "value": 4},
        "labelFontSize": 19, "labelPadding": 3, "titleFontSize": 24, "titlePadding": 1}},
    "y": {"field": "y", "type": "quantitative",
      "scale": {"domain": [0, 377], "nice": false, "zero": false},
      "axis": {"title": "Intensity [rel. un.]", "labels": false, "offset": 18,
        "values": [0,22.06,44.12,66.18,88.24,110.3,132.36,154.42,176.48,198.54,220.6,242.66,264.72,286.78,308.84,330.9,352.96,375],
        "tickSize": {"condition": {"test": "round(datum.value / 22.06) % 2 === 0", "value": 7}, "value": 4},
        "titleFontSize": 25, "titlePadding": -5, "titleY": 183}},
    "color": {"field": "s", "type": "nominal",
      "scale": {"domain": ["TEG", "TEG / aspartate (precipitate)", "TEG / aspartate (ultrasonic dispersion)", "aspartate", "nanotubes / aspartate (precipitate)"],
                "range": ["#000000", "#ff0000", "#0000ff", "#00ff00", "#ff00ff"]},
      "legend": {"orient": "none", "legendX": 175, "legendY": 2, "title": null,
        "symbolType": "stroke", "symbolSize": 1600, "symbolStrokeWidth": 2, "clipHeight": 18, "rowPadding": 4, "padding": 3, "labelOffset": 1,
        "labelFontSize": 17, "labelLimit": 500, "strokeColor": "#333333", "fillColor": "white",
        "labelExpr": "indexof(['TEG','aspartate','nanotubes / aspartate (precipitate)'], datum.label) >= 0 ? '\u00a0' + datum.label : datum.label"}}
  }
},
{
  "width": 496, "height": 378,
  "data": {"name": "right"},
  "mark": {"type": "line", "strokeWidth": 1.8, "clip": true},
  "encoding": {
    "x": {"field": "x", "type": "quantitative",
      "scale": {"domain": [250, 4500], "nice": false, "zero": false},
      "axis": {"title": "wave number, cm⁻¹", "values": [250,500,750,1000,1250,1500,1750,2000,2250,2500,2750,3000,3250,3500,3750,4000,4250,4500],
        "labelExpr": "datum.value % 500 === 0 ? datum.value : ''",
        "tickSize": {"condition": {"test": "datum.value % 500 === 0", "value": 7}, "value": 4},
        "labelFontSize": 19, "labelPadding": 3, "titleFontSize": 24, "titlePadding": 1}},
    "y": {"field": "y", "type": "quantitative",
      "scale": {"domain": [0, 378], "nice": false, "zero": false},
      "axis": {"title": "Intensity [rel. un.]", "labels": false,
        "values": [0,33.33,66.67,100,133.33,166.67,200,233.33,266.67,300,333.33,366.67],
        "tickSize": {"condition": {"test": "round(datum.value / 33.33) % 2 === 0", "value": 8}, "value": 5},
        "titleFontSize": 26, "titlePadding": 5, "titleY": 170}},
    "color": {"field": "s", "type": "nominal",
      "scale": {"domain": ["TEG / glycine (precipitate)", "glycine"], "range": ["#ff0000", "#000000"]},
      "legend": {"orient": "none", "legendX": 208, "legendY": 19, "title": null,
        "symbolType": "stroke", "symbolSize": 2025, "symbolStrokeWidth": 2, "clipHeight": 21, "rowPadding": 7, "padding": 2, "labelOffset": 6,
        "labelFontSize": 21, "labelLimit": 500, "strokeColor": "#333333", "fillColor": "white"}}
  }
}
],
"resolve": {"scale": {"x": "independent", "y": "independent", "color": "independent"}, "legend": {"color": "independent"}, "axis": {"x": "independent", "y": "independent"}}
}
